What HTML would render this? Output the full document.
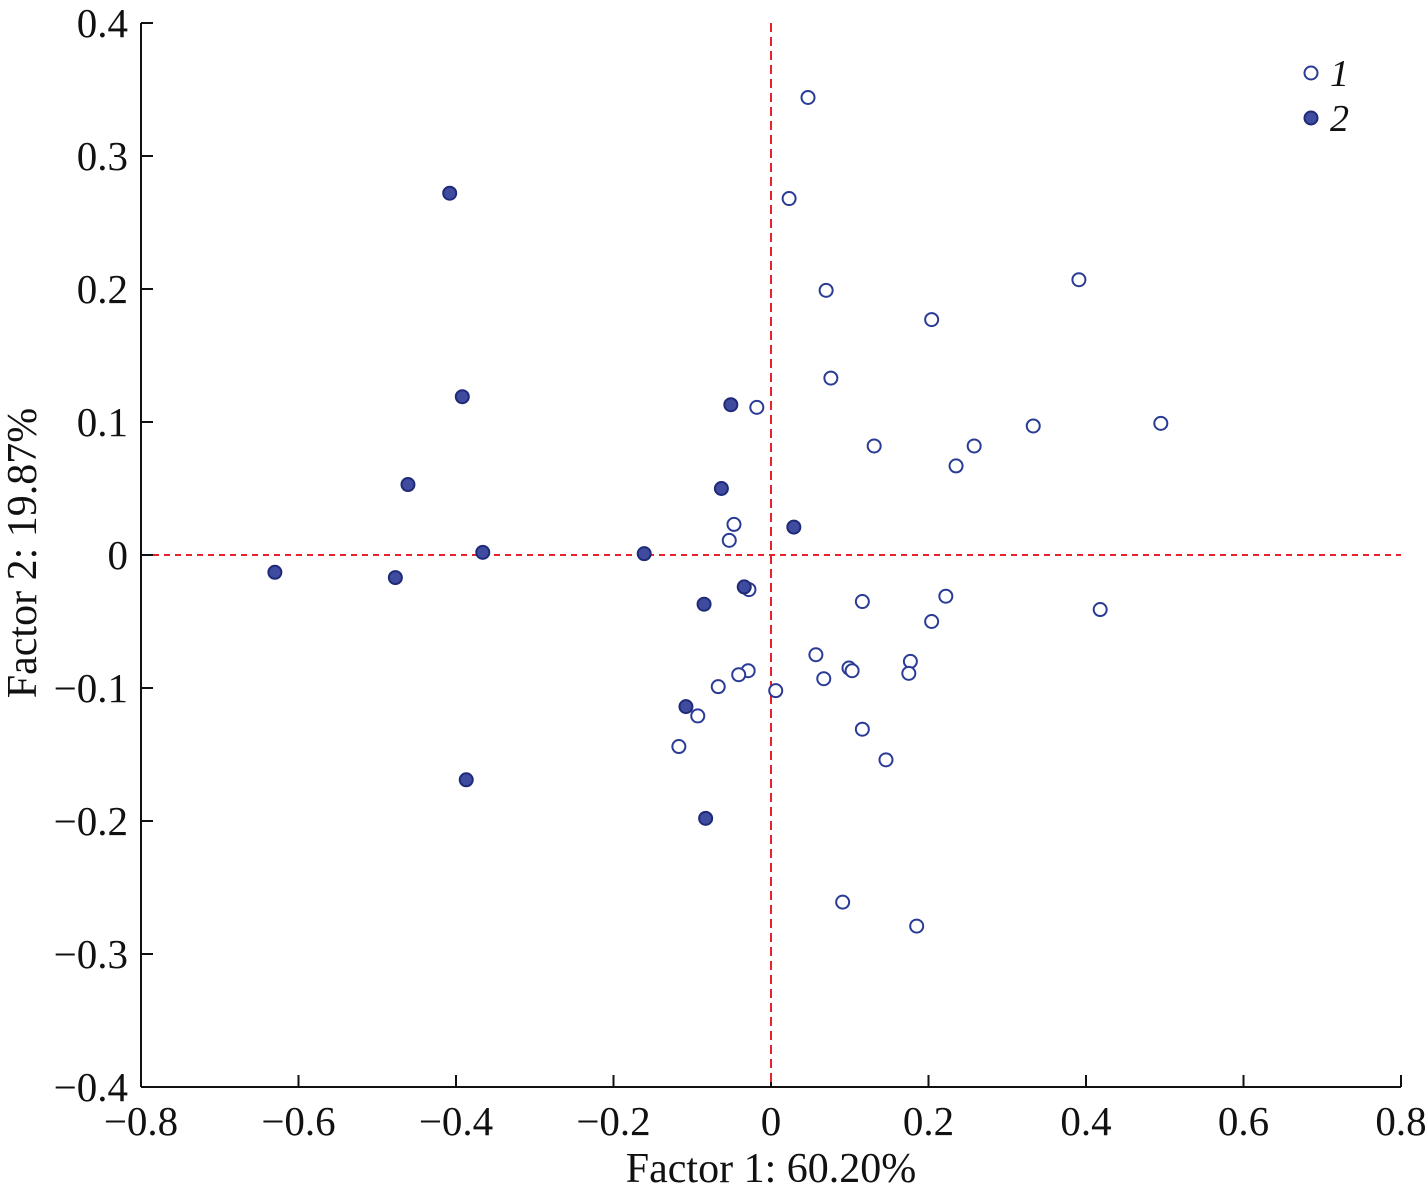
<!DOCTYPE html>
<html><head><meta charset="utf-8"><style>
html,body{margin:0;padding:0;background:#fff;}
svg text{font-family:"Liberation Serif",serif;fill:#111;}
</style></head><body>
<svg id="chart" width="1428" height="1196" xmlns="http://www.w3.org/2000/svg">
<g id="axes"></g>
<g id="marks"></g>
<g>
<circle cx="1311" cy="73" r="6.5" fill="#fff" stroke="#2a3b96" stroke-width="2"/>
<text x="1330" y="86" font-size="38" font-style="italic">1</text>
<circle cx="1311" cy="118" r="6.5" fill="#3f4b9e" stroke="#1f2a78" stroke-width="2"/>
<text x="1330" y="131" font-size="38" font-style="italic">2</text>
</g>
<text x="771" y="1182" font-size="42" text-anchor="middle">Factor 1: 60.20%</text>
<text transform="translate(36,553) rotate(-90)" font-size="42" text-anchor="middle">Factor 2: 19.87%</text>
</svg>
<script>
const xTicks=[-0.8,-0.6,-0.4,-0.2,0,0.2,0.4,0.6,0.8];
const yTicks=[-0.4,-0.3,-0.2,-0.1,0,0.1,0.2,0.3,0.4];
const s1x=[0.047,0.023,0.070,0.204,0.391,0.076,-0.018,0.131,0.258,0.235,0.333,0.495,-0.047,-0.053,-0.028,0.116,0.222,0.418,0.204,0.057,0.177,0.099,0.103,0.175,0.067,-0.029,-0.041,-0.067,0.006,-0.093,-0.117,0.116,0.146,0.091,0.185];
const s1y=[0.344,0.268,0.199,0.177,0.207,0.133,0.111,0.082,0.082,0.067,0.097,0.099,0.023,0.011,-0.026,-0.035,-0.031,-0.041,-0.050,-0.075,-0.080,-0.085,-0.087,-0.089,-0.093,-0.087,-0.090,-0.099,-0.102,-0.121,-0.144,-0.131,-0.154,-0.261,-0.279];
const s2x=[-0.408,-0.392,-0.051,-0.461,-0.063,0.029,-0.366,-0.161,-0.630,-0.477,-0.034,-0.085,-0.108,-0.387,-0.083];
const s2y=[0.272,0.119,0.113,0.053,0.050,0.021,0.002,0.001,-0.013,-0.017,-0.024,-0.037,-0.114,-0.169,-0.198];

const NS="http://www.w3.org/2000/svg";
const L=141,R=1401,T=23,B=1087;
const xs=v=>L+(v+0.8)/1.6*(R-L);
const ys=v=>B-(v+0.4)/0.8*(B-T);
function mk(tag,attrs,parent){const e=document.createElementNS(NS,tag);for(const k in attrs)e.setAttribute(k,attrs[k]);parent.appendChild(e);return e;}
const ax=document.getElementById('axes');
let e;
e=mk('line',{x1:L,y1:T,x2:L,y2:B,stroke:'#111','stroke-width':2},ax);


e=mk('line',{x1:L,y1:B,x2:R,y2:B,stroke:'#111','stroke-width':2},ax);


xTicks.forEach(v=>{
  const x=xs(v);
  e=mk('line',{x1:x,y1:B,x2:x,y2:B-12,stroke:'#111','stroke-width':2},ax);
  
  
  e=mk('text',{x:x,y:1135,'font-size':41,'text-anchor':'middle'},ax);
  e.textContent=(v<0?'\u2212':'')+(v===0?'0':Math.abs(v).toFixed(1));
  
  
});
yTicks.forEach(v=>{
  const y=ys(v);
  e=mk('line',{x1:L,y1:y,x2:L+12,y2:y,stroke:'#111','stroke-width':2},ax);
  
  
  e=mk('text',{x:128,y:y+14,'font-size':41,'text-anchor':'end'},ax);
  e.textContent=(v<0?'\u2212':'')+(v===0?'0':Math.abs(v).toFixed(1));
  
  
});
e=mk('line',{x1:xs(0),y1:T,x2:xs(0),y2:B,stroke:'#e8222a','stroke-width':2,'stroke-dasharray':'9,5'},ax);


e=mk('line',{x1:L+12,y1:ys(0),x2:R,y2:ys(0),stroke:'#e8222a','stroke-width':2,'stroke-dasharray':'6,5'},ax);


const mg=document.getElementById('marks');
s1x.forEach((v,i)=>{
  e=mk('circle',{cx:xs(v),cy:ys(s1y[i]),r:6.5,fill:'#fff',stroke:'#2a3b96','stroke-width':2},mg);
  
  
});
s2x.forEach((v,i)=>{
  e=mk('circle',{cx:xs(v),cy:ys(s2y[i]),r:6.5,fill:'#3f4b9e',stroke:'#1f2a78','stroke-width':2},mg);
  
  
});
</script>
</body></html>
